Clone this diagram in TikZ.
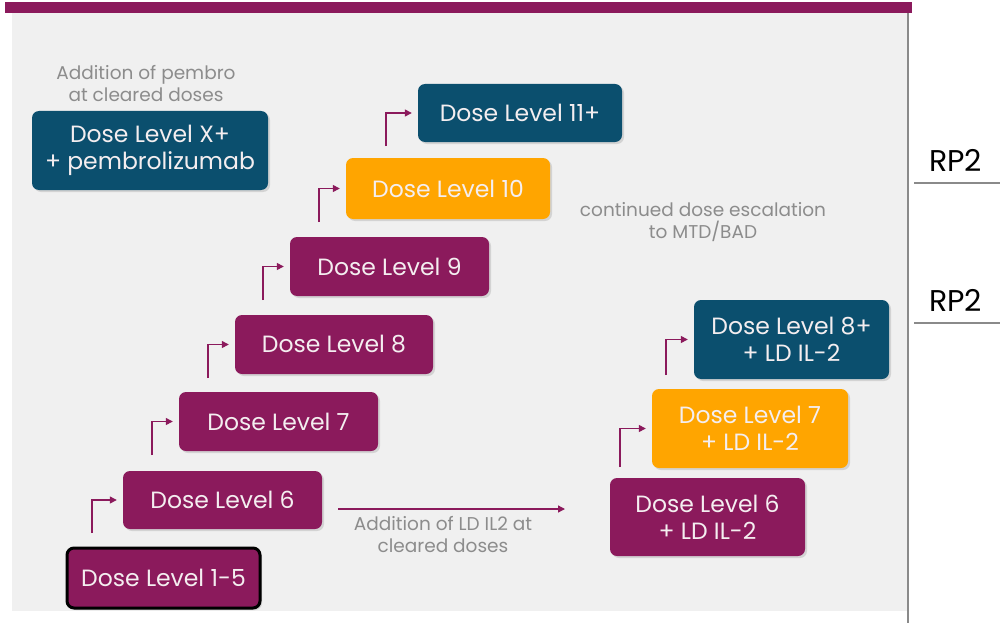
\documentclass[tikz,border=0pt]{standalone}
\usepackage{fontspec}
\setmainfont{Poppins}
\usetikzlibrary{arrows.meta,shadows,calc}
\definecolor{plum}{HTML}{8B1A5C}
\definecolor{navy}{HTML}{0B4F6E}
\definecolor{amber}{HTML}{FFA500}
\definecolor{panel}{HTML}{F0F0F0}
\definecolor{note}{HTML}{8C8C8C}
\definecolor{edge}{HTML}{8A8A8A}
\definecolor{boxtext}{HTML}{F4EEF0}
\tikzset{
  dbox/.style={rounded corners=7pt, text=boxtext, align=center, font=\fontsize{23.5}{27}\selectfont,
    inner sep=0pt, drop shadow={shadow xshift=2pt, shadow yshift=-2pt, opacity=0.25}},
  pbox/.style={dbox, fill=plum},
  nbox/.style={dbox, fill=navy},
  obox/.style={dbox, fill=amber},
  arr/.style={draw=plum, line width=1.3pt, -{Triangle[length=7pt,width=7pt]}, shorten >=6pt},
  notetext/.style={text=note, align=center, font=\fontsize{18.5}{22}\selectfont},
  rptext/.style={anchor=base west, font=\fontsize{30}{32}\selectfont, inner sep=0pt},
}
\begin{document}
\begin{tikzpicture}[x=1pt,y=-1pt]
\useasboundingbox (0,0) rectangle (1000,623);
\fill[white] (0,0) rectangle (1000,623);
\fill[panel] (12,12) rectangle (908,611);
\fill[plum] (5,2) rectangle (912,13);
\draw[edge, line width=1.2pt] (908,13) -- (908,623);
% left column
\node[pbox, draw=black, line width=3pt, minimum width=193pt, minimum height=60pt] (b15) at (163.5,578) {Dose Level 1-5};
\node[pbox, minimum width=199pt, minimum height=58pt] (b6) at (222.5,500) {Dose Level 6};
\node[pbox, minimum width=199pt, minimum height=59pt] (b7) at (278.5,421.5) {Dose Level 7};
\node[pbox, minimum width=198pt, minimum height=59pt] (b8) at (334,344.5) {Dose Level 8};
\node[pbox, minimum width=199pt, minimum height=59pt] (b9) at (389.5,266.5) {Dose Level 9};
\node[obox, minimum width=204pt, minimum height=61pt] (b10) at (448,188.5) {Dose Level 10};
\node[nbox, minimum width=204pt, minimum height=58pt] (b11) at (520,113) {Dose Level 11+};
\node[nbox, minimum width=236pt, minimum height=79pt] (bx) at (150,150.5) {Dose Level X+\\+ pembrolizumab};
% right column
\node[pbox, minimum width=195pt, minimum height=78pt] (r6) at (707.5,517) {Dose Level 6\\+ LD IL-2};
\node[obox, minimum width=196pt, minimum height=79pt] (r7) at (750,428.5) {Dose Level 7\\+ LD IL-2};
\node[nbox, minimum width=195pt, minimum height=79pt] (r8) at (791.5,339.5) {Dose Level 8+\\+ LD IL-2};
% notes
\node[notetext] (n1) at (146,84) {Addition of pembro\\at cleared doses};
\node[notetext] (n2) at (703,222.5) {continued dose escalation\\to MTD/BAD};
\node[notetext] (n3) at (443,534.5) {Addition of LD IL2 at\\cleared doses};
% elbow arrows
\coordinate (s1) at (92,533);
\coordinate (s2) at (152,455);
\coordinate (s3) at (208,378);
\coordinate (s4) at (263,300);
\coordinate (s5) at (319,222);
\coordinate (s6) at (386,146);
\coordinate (s7) at (620,467);
\coordinate (s8) at (666,375);
\draw[arr] (s1) |- (b6.west);
\draw[arr] (s2) |- (b7.west);
\draw[arr] (s3) |- (b8.west);
\draw[arr] (s4) |- (b9.west);
\draw[arr] (s5) |- (b10.west);
\draw[arr] (s6) |- (b11.west);
\draw[arr] (s7) |- (r7.west);
\draw[arr] (s8) |- (r8.west);
% horizontal arrow
\coordinate (h1) at (338,509);
\coordinate (h2) at (571,509);
\draw[arr] (h1) -- (h2);
% RP2 labels
\node[rptext] (rp1) at (929,171) {RP2};
\node[rptext] (rp2) at (929,311) {RP2};
\draw[edge, line width=1.5pt] (914,183) -- (1000,183);
\draw[edge, line width=1.5pt] (914,323) -- (1000,323);
\end{tikzpicture}
\end{document}
